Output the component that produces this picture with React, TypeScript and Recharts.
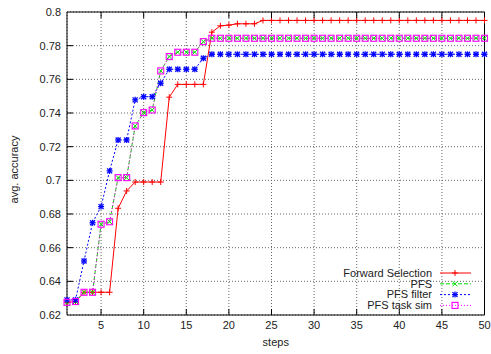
import React from 'react';
import { LineChart, Line, XAxis, YAxis, CartesianGrid, Legend } from 'recharts';

const steps = Array.from({ length: 50 }, (_, i) => i + 1);

const forwardSelection = [
  0.6275, 0.628, 0.6335, 0.6335, 0.6335, 0.6335, 0.6834, 0.6937, 0.699, 0.699,
  0.699, 0.699, 0.7494, 0.757, 0.757, 0.757, 0.757, 0.788, 0.7918, 0.7922,
  0.793, 0.793, 0.793, 0.795, 0.795, 0.795, 0.795, 0.795, 0.795, 0.795,
  0.795, 0.795, 0.795, 0.795, 0.795, 0.795, 0.795, 0.795, 0.795, 0.795,
  0.795, 0.795, 0.795, 0.795, 0.795, 0.795, 0.795, 0.795, 0.795, 0.795,
];

const pfs = [
  0.6275, 0.628, 0.6335, 0.6335, 0.6739, 0.6754, 0.7016, 0.7016, 0.7323, 0.7402,
  0.7418, 0.765, 0.7735, 0.7761, 0.7761, 0.7761, 0.7824, 0.7844, 0.7844, 0.7844,
  0.7844, 0.7844, 0.7844, 0.7844, 0.7844, 0.7844, 0.7844, 0.7844, 0.7844, 0.7844,
  0.7844, 0.7844, 0.7844, 0.7844, 0.7844, 0.7844, 0.7844, 0.7844, 0.7844, 0.7844,
  0.7844, 0.7844, 0.7844, 0.7844, 0.7844, 0.7844, 0.7844, 0.7844, 0.7844, 0.7844,
];

const pfsFilter = [
  0.629, 0.629, 0.6521, 0.6748, 0.6844, 0.7056, 0.724, 0.724, 0.7478, 0.7497,
  0.7497, 0.7577, 0.766, 0.766, 0.766, 0.766, 0.7725, 0.7749, 0.7749, 0.7749,
  0.7749, 0.7749, 0.7749, 0.7749, 0.7749, 0.7749, 0.7749, 0.7749, 0.7749, 0.7749,
  0.7749, 0.7749, 0.7749, 0.7749, 0.7749, 0.7749, 0.7749, 0.7749, 0.7749, 0.7749,
  0.7749, 0.7749, 0.7749, 0.7749, 0.7749, 0.7749, 0.7749, 0.7749, 0.7749, 0.7749,
];

const pfsTaskSim = [
  0.6275, 0.628, 0.6335, 0.6335, 0.6739, 0.6754, 0.7016, 0.7016, 0.7323, 0.7402,
  0.7418, 0.765, 0.7735, 0.7761, 0.7761, 0.7761, 0.7824, 0.7844, 0.7844, 0.7844,
  0.7844, 0.7844, 0.7844, 0.7844, 0.7844, 0.7844, 0.7844, 0.7844, 0.7844, 0.7844,
  0.7844, 0.7844, 0.7844, 0.7844, 0.7844, 0.7844, 0.7844, 0.7844, 0.7844, 0.7844,
  0.7844, 0.7844, 0.7844, 0.7844, 0.7844, 0.7844, 0.7844, 0.7844, 0.7844, 0.7844,
];

const xTicks = [5, 10, 15, 20, 25, 30, 35, 40, 45, 50];
const yTicks = [0.62, 0.64, 0.66, 0.68, 0.7, 0.72, 0.74, 0.76, 0.78, 0.8];

const FONT = '"Liberation Sans", Arial, sans-serif';
const TICK_MARGIN = 6;
const TICK_LEN = 6;

type MarkerKind = 'plus' | 'cross' | 'star' | 'square';

const SERIES: { key: string; name: string; values: number[]; color: string; dash?: string; marker: MarkerKind }[] = [
  { key: 'fs', name: 'Forward Selection', values: forwardSelection, color: '#ff0000', marker: 'plus' },
  { key: 'pfs', name: 'PFS', values: pfs, color: '#00e000', dash: '4 2', marker: 'cross' },
  { key: 'filter', name: 'PFS filter', values: pfsFilter, color: '#0000ff', dash: '2 2', marker: 'star' },
  { key: 'sim', name: 'PFS task sim', values: pfsTaskSim, color: '#ff00ff', dash: '1 2', marker: 'square' },
];

const data = steps.map((s, i) => {
  const row: { [k: string]: number } = { step: s };
  SERIES.forEach((se) => (row[se.key] = se.values[i]));
  return row;
});

const Marker = ({ kind, cx, cy, color }: { kind: MarkerKind; cx: number; cy: number; color: string }) => {
  const r = 3;
  if (kind === 'plus') {
    return (
      <g stroke={color} strokeWidth={1}>
        <line x1={cx - r} y1={cy} x2={cx + r} y2={cy} />
        <line x1={cx} y1={cy - r} x2={cx} y2={cy + r} />
      </g>
    );
  }
  if (kind === 'cross') {
    const d = 2.5;
    return (
      <g stroke={color} strokeWidth={1}>
        <line x1={cx - d} y1={cy - d} x2={cx + d} y2={cy + d} />
        <line x1={cx - d} y1={cy + d} x2={cx + d} y2={cy - d} />
      </g>
    );
  }
  if (kind === 'star') {
    const d = 2.5;
    return (
      <g stroke={color} strokeWidth={1.3}>
        <line x1={cx - d} y1={cy - d} x2={cx + d} y2={cy + d} />
        <line x1={cx - d} y1={cy + d} x2={cx + d} y2={cy - d} />
        <line x1={cx - r} y1={cy} x2={cx + r} y2={cy} />
        <line x1={cx} y1={cy - r} x2={cx} y2={cy + r} />
      </g>
    );
  }
  return <rect x={cx - 3} y={cy - 3} width={6} height={6} fill="none" stroke={color} strokeWidth={1.1} />;
};

const makeDot = (kind: MarkerKind, color: string) => (props: any) => {
  const { cx, cy, index } = props;
  if (cx == null || cy == null) return <g key={index} />;
  return <Marker key={index} kind={kind} cx={cx} cy={cy} color={color} />;
};

// gnuplot-style ticks: label outside, short mark inside the frame
const LeftTick = (props: any) => {
  const { x, y, payload } = props;
  const edge = x + TICK_MARGIN;
  const isEdge = payload.value === 0.62 || payload.value === 0.8;
  return (
    <g>
      {!isEdge && <line x1={edge} y1={y} x2={edge + TICK_LEN} y2={y} stroke="#000" />}
      <text x={x} y={y} dy="0.35em" textAnchor="end" fontSize={11} fontFamily={FONT} fill="#222">
        {String(payload.value)}
      </text>
    </g>
  );
};

const RightTick = (props: any) => {
  const { x, y, payload } = props;
  const edge = x - TICK_MARGIN;
  const isEdge = payload.value === 0.62 || payload.value === 0.8;
  return isEdge ? <g /> : <line x1={edge} y1={y} x2={edge - TICK_LEN} y2={y} stroke="#000" />;
};

const BottomTick = (props: any) => {
  const { x, y, payload } = props;
  const edge = y - TICK_MARGIN;
  return (
    <g>
      {payload.value !== 50 && <line x1={x} y1={edge} x2={x} y2={edge - TICK_LEN} stroke="#000" />}
      <text x={x} y={y} dy="0.75em" textAnchor="middle" fontSize={11} fontFamily={FONT} fill="#222">
        {payload.value}
      </text>
    </g>
  );
};

const TopTick = (props: any) => {
  const { x, y, payload } = props;
  const edge = y + TICK_MARGIN;
  return payload.value === 50 ? <g /> : <line x1={x} y1={edge} x2={x} y2={edge + TICK_LEN} stroke="#000" />;
};

const LegendContent = () => (
  <svg width={130} height={50} style={{ display: 'block', overflow: 'visible' }}>
    {SERIES.map((s, i) => {
      const y = 6 + i * 10.8;
      return (
        <g key={s.key}>
          <text x={62} y={y} dy="0.35em" textAnchor="end" fontSize={11} fontFamily={FONT} fill="#222">
            {s.name}
          </text>
          <line x1={70} y1={y} x2={101} y2={y} stroke={s.color} strokeDasharray={s.dash} />
          <Marker kind={s.marker} cx={85} cy={y} color={s.color} />
        </g>
      );
    })}
  </svg>
);

export default function App() {
  return (
    <div style={{ position: 'absolute', left: 0, top: 0, background: '#fff' }}>
      <LineChart width={491} height={354} data={data} margin={{ top: 0, right: 0, bottom: 0, left: 0 }}>
        <CartesianGrid xAxisId="bottom" yAxisId="left" stroke="#666" strokeDasharray="1 2" />
        <XAxis
          xAxisId="bottom"
          dataKey="step"
          type="number"
          domain={[1, 50]}
          ticks={xTicks}
          height={39}
          tickSize={0}
          tickMargin={TICK_MARGIN}
          stroke="#000"
          tick={<BottomTick />}
          interval={0}
          label={{ value: 'steps', position: 'insideBottom', offset: 8, fontSize: 11, fontFamily: FONT, fill: '#222' }}
        />
        <XAxis
          xAxisId="top"
          orientation="top"
          dataKey="step"
          type="number"
          domain={[1, 50]}
          ticks={xTicks}
          height={12}
          tickSize={0}
          tickMargin={TICK_MARGIN}
          stroke="#000"
          tick={<TopTick />}
          interval={0}
        />
        <YAxis
          yAxisId="left"
          type="number"
          domain={[0.62, 0.8]}
          ticks={yTicks}
          width={67}
          tickSize={0}
          tickMargin={TICK_MARGIN}
          stroke="#000"
          tick={<LeftTick />}
          interval={0}
          label={{ value: 'avg. accuracy', angle: -90, position: 'insideLeft', offset: 14, dy: 6, fontSize: 11, fontFamily: FONT, fill: '#222', style: { textAnchor: 'middle' } }}
        />
        <YAxis
          yAxisId="right"
          orientation="right"
          type="number"
          domain={[0.62, 0.8]}
          ticks={yTicks}
          width={6.5}
          tickSize={0}
          tickMargin={TICK_MARGIN}
          stroke="#000"
          tick={<RightTick />}
          interval={0}
        />
        <Legend
          layout="vertical"
          align="center"
          verticalAlign="middle"
          content={<LegendContent />}
          wrapperStyle={{ left: 370, top: 267, width: 130 }}
        />
        {SERIES.map((s) => (
          <Line
            key={s.key}
            xAxisId="bottom"
            yAxisId="left"
            type="linear"
            dataKey={s.key}
            name={s.name}
            stroke={s.color}
            strokeWidth={1}
            strokeDasharray={s.dash}
            dot={makeDot(s.marker, s.color)}
            activeDot={false}
            isAnimationActive={false}
          />
        ))}
      </LineChart>
    </div>
  );
}
